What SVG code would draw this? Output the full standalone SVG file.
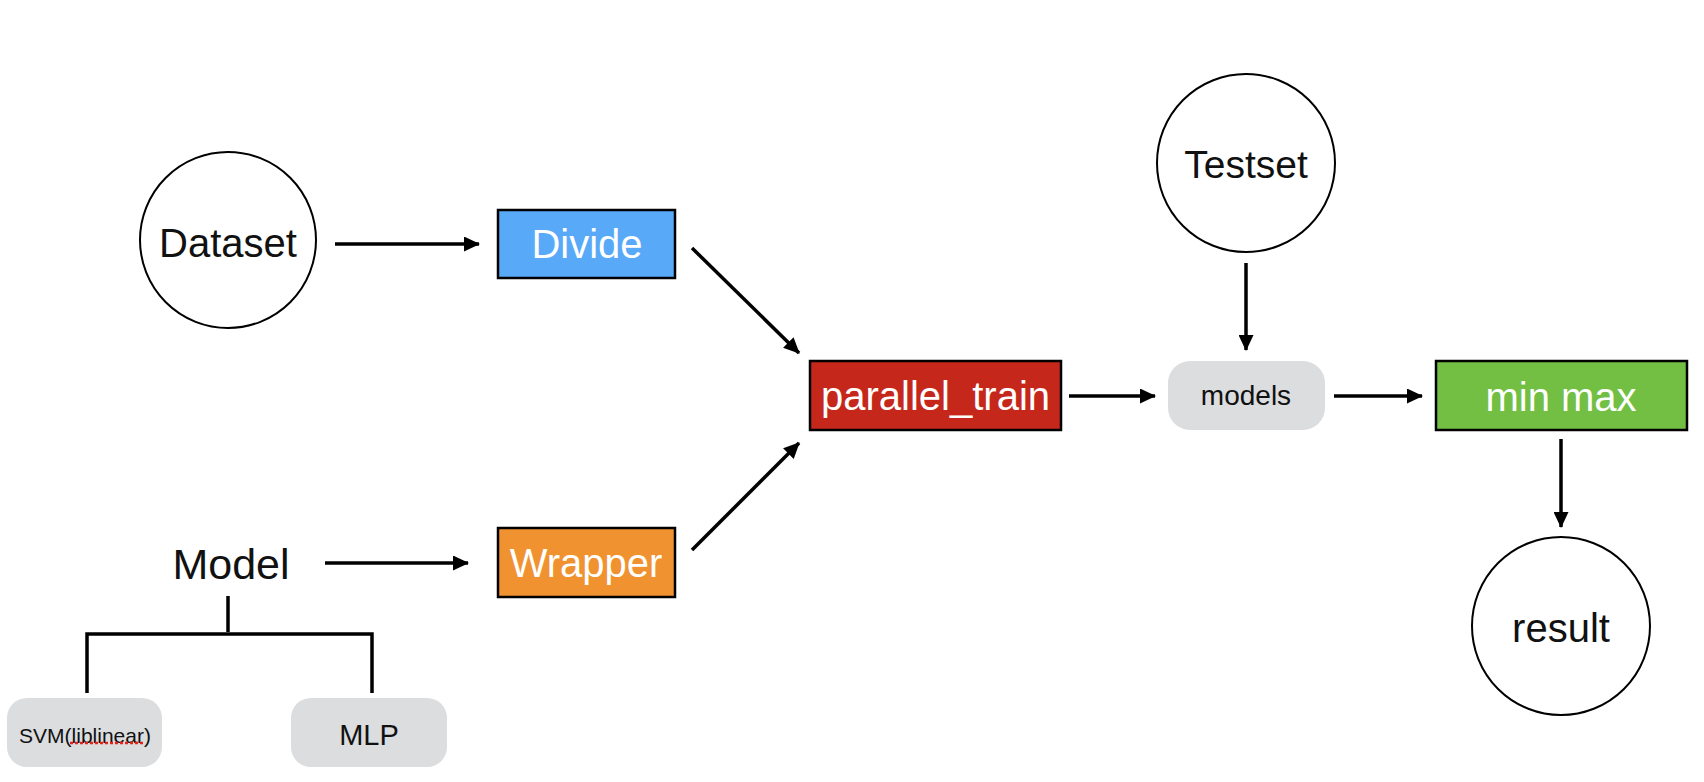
<svg xmlns="http://www.w3.org/2000/svg" width="1704" height="782" viewBox="0 0 1704 782">
<style>
text{font-family:"Liberation Sans",Arial,sans-serif;text-anchor:middle}
.dark{fill:#111}
.white{fill:#fff}
.circ{fill:#fff;stroke:#000;stroke-width:2}
.box{stroke:#000;stroke-width:2.5}
.pill{fill:#dcdddf}
.conn{stroke:#000;stroke-width:3.5;fill:none}
.arr{marker-end:url(#ah)}
</style>
<defs>
<marker id="ah" viewBox="0 0 16 15" refX="15" refY="7.5" markerWidth="16" markerHeight="15" markerUnits="userSpaceOnUse" orient="auto">
<path d="M0,0 L16,7.5 L0,15 Z" fill="#000"/>
</marker>
</defs>
<rect width="1704" height="782" fill="#fff"/>
<g id="connectors">
<line class="conn arr" x1="335" y1="244" x2="479" y2="244"/>
<line class="conn arr" x1="692" y1="248" x2="799" y2="353"/>
<line class="conn arr" x1="692" y1="550" x2="799" y2="443"/>
<line class="conn arr" x1="325" y1="563" x2="468" y2="563"/>
<line class="conn arr" x1="1069" y1="396" x2="1155" y2="396"/>
<line class="conn arr" x1="1334" y1="396" x2="1422" y2="396"/>
<line class="conn arr" x1="1246" y1="263" x2="1246" y2="350"/>
<line class="conn arr" x1="1561" y1="439" x2="1561" y2="527"/>
<path class="conn" stroke-width="4" d="M228,596 V632 M87,693 V634 H372 V693"/>
</g>
<g id="dataset">
<circle class="circ" cx="228" cy="240" r="88"/>
<text class="dark" x="228" y="257" font-size="40">Dataset</text>
</g>
<g id="divide">
<rect class="box" x="498" y="210" width="177" height="68" fill="#58a9f8"/>
<text class="white" x="587" y="258" font-size="40">Divide</text>
</g>
<g id="model">
<text class="dark" x="231" y="579" font-size="43">Model</text>
</g>
<g id="wrapper">
<rect class="box" x="498" y="528" width="177" height="69" fill="#f0922f"/>
<text class="white" x="586" y="577" font-size="40">Wrapper</text>
</g>
<g id="svm">
<rect class="pill" x="7" y="698" width="155" height="69" rx="20"/>
<text class="dark" x="85" y="743" font-size="21">SVM(liblinear)</text>
<line x1="70" y1="743" x2="145" y2="743" stroke="#e8221b" stroke-width="2.5" stroke-dasharray="3,2"/>
</g>
<g id="mlp">
<rect class="pill" x="291" y="698" width="156" height="69" rx="20"/>
<text class="dark" x="369" y="745" font-size="29">MLP</text>
</g>
<g id="parallel_train">
<rect class="box" x="810" y="361" width="251" height="69" fill="#c5281a"/>
<text class="white" x="935.500" y="410" font-size="40">parallel_train</text>
</g>
<g id="testset">
<circle class="circ" cx="1246" cy="163" r="89"/>
<text class="dark" x="1246" y="178" font-size="39">Testset</text>
</g>
<g id="models">
<rect class="pill" x="1168" y="361" width="157" height="69" rx="22"/>
<text class="dark" x="1246" y="405" font-size="28">models</text>
</g>
<g id="minmax">
<rect class="box" x="1436" y="361" width="251" height="69" fill="#72bf44"/>
<text class="white" x="1561" y="411" font-size="40">min max</text>
</g>
<g id="result">
<circle class="circ" cx="1561" cy="626" r="89"/>
<text class="dark" x="1561" y="642" font-size="40">result</text>
</g>
</svg>
